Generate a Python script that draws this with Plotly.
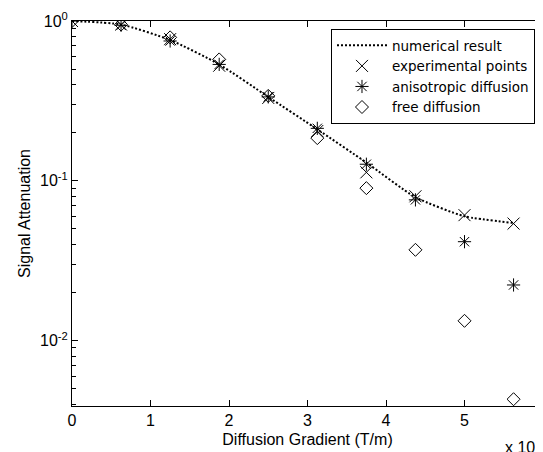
import plotly.graph_objects as go

# Data (x in units of 1e-3 T/m)
gradient = [0, 0.625, 1.25, 1.875, 2.5, 3.125, 3.75, 4.375, 5.0, 5.625]
numerical = [1.0, 0.95, 0.76, 0.535, 0.335, 0.21, 0.13, 0.079, 0.060, 0.0545]
experimental = [1.0, 0.95, 0.77, 0.525, 0.33, 0.205, 0.113, 0.080, 0.061, 0.054]
anisotropic = [1.0, 0.94, 0.75, 0.535, 0.335, 0.213, 0.127, 0.076, 0.0416, 0.0223]
free_diff = [1.0, 0.95, 0.79, 0.575, 0.34, 0.185, 0.090, 0.037, 0.0133, 0.0043]

x_ticks = [0, 1, 2, 3, 4, 5, 6]
y_tickvals = [0.01, 0.1, 1]
y_ticktext = ["10<sup>-2</sup>", "10<sup>-1</sup>", "10<sup>0</sup>"]

FONT = "Liberation Sans"

minor_vals = []
for dec in [0.001, 0.01, 0.1]:
    for k in range(2, 10):
        minor_vals.append(dec * k)

fig = go.Figure()
fig.add_trace(go.Scatter(
    x=gradient, y=numerical, mode="lines", name="numerical result",
    line=dict(color="black", width=2, dash="2px,2px", shape="spline", smoothing=0.6),
))
fig.add_trace(go.Scatter(
    x=gradient, y=experimental, mode="markers", name="experimental points",
    marker=dict(symbol="x-thin-open", size=12, color="black", line=dict(color="black", width=1)),
))
fig.add_trace(go.Scatter(
    x=gradient, y=anisotropic, mode="markers", name="anisotropic diffusion",
    marker=dict(symbol="asterisk-open", size=11, color="black", line=dict(color="black", width=1)),
))
fig.add_trace(go.Scatter(
    x=gradient, y=free_diff, mode="markers", name="free diffusion",
    marker=dict(symbol="diamond-open", size=10, color="black", line=dict(color="black", width=1)),
))

fig.update_layout(
    width=543, height=452,
    margin=dict(l=64, r=8, t=13, b=54, autoexpand=False),
    paper_bgcolor="white", plot_bgcolor="white",
    font=dict(family=FONT, size=16, color="black"),
    showlegend=True,
    legend=dict(
        x=0.983, y=0.979, xanchor="right", yanchor="top",
        bgcolor="white", bordercolor="black", borderwidth=1,
        font=dict(family="DejaVu Sans", size=13.5, color="black"),
        tracegroupgap=0, itemwidth=50,
    ),
    xaxis=dict(
        range=[0, 6], tickvals=x_ticks, ticks="inside", ticklen=6, tickwidth=1,
        tickcolor="black", showline=True, linecolor="black", linewidth=1,
        mirror="ticks", showgrid=False, zeroline=False, automargin=False,
        title=dict(text="Diffusion Gradient (T/m)", font=dict(family=FONT, size=16), standoff=5),
        tickfont=dict(family=FONT, size=16),
    ),
    yaxis=dict(
        type="log", range=[-2.409, 0], tickvals=y_tickvals, ticktext=y_ticktext,
        ticks="inside", ticklen=6, tickwidth=1, tickcolor="black",
        showline=True, linecolor="black", linewidth=1, mirror="ticks",
        showgrid=False, zeroline=False, automargin=False,
        minor=dict(tickvals=minor_vals, ticks="inside", ticklen=4, tickcolor="black", showgrid=False),
        title=dict(text="Signal Attenuation", font=dict(family=FONT, size=16), standoff=5),
        tickfont=dict(family=FONT, size=16),
    ),
    annotations=[dict(
        text="x 10<sup>-3</sup>", xref="paper", yref="paper",
        x=0.915, y=-0.103, xanchor="left", yanchor="middle",
        showarrow=False, font=dict(family=FONT, size=16),
    )],
)

fig.write_html("out.html")
